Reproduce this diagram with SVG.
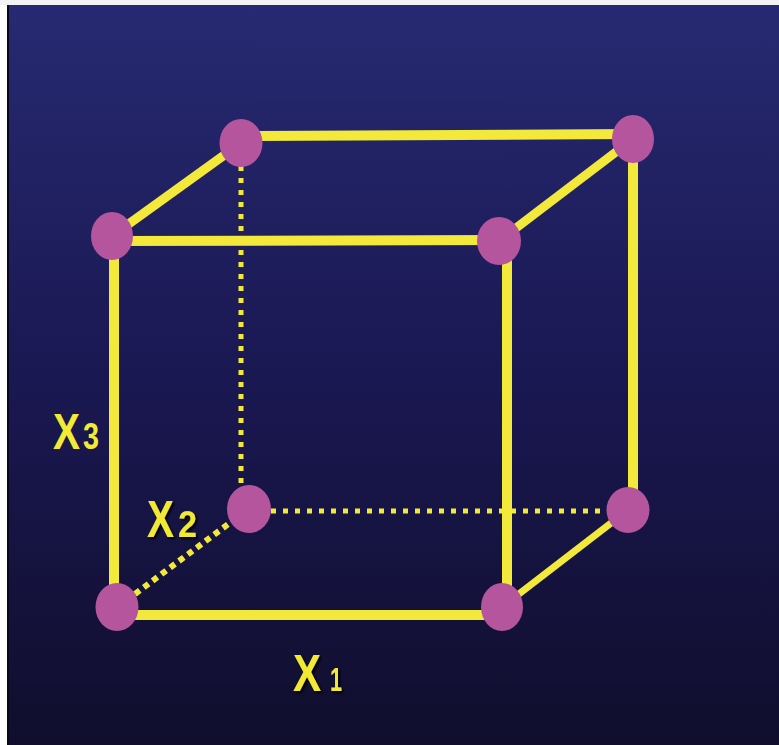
<svg xmlns="http://www.w3.org/2000/svg" width="779" height="745" viewBox="0 0 779 745">
  <defs>
    <linearGradient id="bg" x1="0" y1="0" x2="0" y2="1">
      <stop offset="0" stop-color="#272a72"/>
      <stop offset="0.5" stop-color="#1a1852"/>
      <stop offset="1" stop-color="#100e2c"/>
    </linearGradient>
    <filter id="shadow" x="-20%" y="-20%" width="140%" height="140%">
      <feDropShadow dx="2" dy="2" stdDeviation="0.8" flood-color="#000000" flood-opacity="0.9"/>
    </filter>
  </defs>
  <style>
    .edge { stroke: #f2e93b; stroke-width: 10; fill: none; }
    .diag { stroke: #f2e93b; stroke-width: 9; fill: none; }
    .dot { stroke: #f2e93b; stroke-width: 5; fill: none; stroke-dasharray: 5 7; }
    .dotd { stroke: #f2e93b; stroke-width: 6; fill: none; stroke-dasharray: 6 5; }
    .node { fill: #b4559e; }
    .lbl { font-family: "Liberation Sans", Arial, sans-serif; font-weight: bold; fill: #f2ea33; }
  </style>
  <rect x="0" y="0" width="779" height="745" fill="#ffffff"/>
  <rect x="0" y="0" width="779" height="5" fill="#f3f3f5"/>
  <rect x="7" y="5" width="772" height="740" fill="url(#bg)"/>
  <rect x="7" y="5" width="2" height="740" fill="#08081a"/>

  <g id="connectors">
    <line class="dot" x1="241" y1="166" x2="241" y2="485"/>
    <line class="dot" x1="271" y1="511" x2="607" y2="511"/>
    <line class="dotd" x1="135" y1="594" x2="231" y2="522"/>
    <line class="edge" x1="241" y1="136" x2="633" y2="134"/>
    <line class="diag" x1="112" y1="236" x2="241" y2="143"/>
    <line class="diag" x1="499" y1="241" x2="633" y2="139"/>
    <line class="edge" x1="112" y1="241" x2="499" y2="240"/>
    <line class="edge" x1="114" y1="236" x2="114" y2="607"/>
    <line class="edge" x1="507" y1="241" x2="507" y2="607"/>
    <line class="edge" x1="633" y1="139" x2="633" y2="510"/>
    <line class="edge" x1="117" y1="615" x2="502" y2="615"/>
    <line class="diag" x1="502" y1="607" x2="628" y2="510" style="stroke-width:7"/>
  </g>

  <g id="n-top-back-left"><ellipse class="node" cx="241" cy="143" rx="21.5" ry="24"/></g>
  <g id="n-top-back-right"><ellipse class="node" cx="633" cy="139" rx="21" ry="24"/></g>
  <g id="n-top-front-left"><ellipse class="node" cx="112" cy="236" rx="21" ry="24"/></g>
  <g id="n-top-front-right"><ellipse class="node" cx="499" cy="241" rx="22" ry="24"/></g>
  <g id="n-bottom-back-left"><ellipse class="node" cx="249" cy="509" rx="22" ry="24"/></g>
  <g id="n-bottom-back-right"><ellipse class="node" cx="628" cy="510" rx="21.5" ry="23"/></g>
  <g id="n-bottom-front-left"><ellipse class="node" cx="117" cy="607" rx="21.5" ry="24"/></g>
  <g id="n-bottom-front-right"><ellipse class="node" cx="502" cy="607" rx="21" ry="24"/></g>

  <g id="label-x3">
    <text class="lbl" y="449"><tspan x="53" font-size="50" textLength="27" lengthAdjust="spacingAndGlyphs">X</tspan><tspan x="83" font-size="37" textLength="16" lengthAdjust="spacingAndGlyphs">3</tspan></text>
  </g>
  <g id="label-x2" filter="url(#shadow)">
    <text class="lbl" y="537"><tspan x="147" font-size="51" textLength="27" lengthAdjust="spacingAndGlyphs">X</tspan><tspan x="178" font-size="37" textLength="19" lengthAdjust="spacingAndGlyphs">2</tspan></text>
  </g>
  <g id="label-x1" filter="url(#shadow)">
    <text class="lbl" y="691"><tspan x="293" font-size="52" textLength="28" lengthAdjust="spacingAndGlyphs">X</tspan><tspan x="330" font-size="33" textLength="12" lengthAdjust="spacingAndGlyphs">1</tspan></text>
  </g>
</svg>
